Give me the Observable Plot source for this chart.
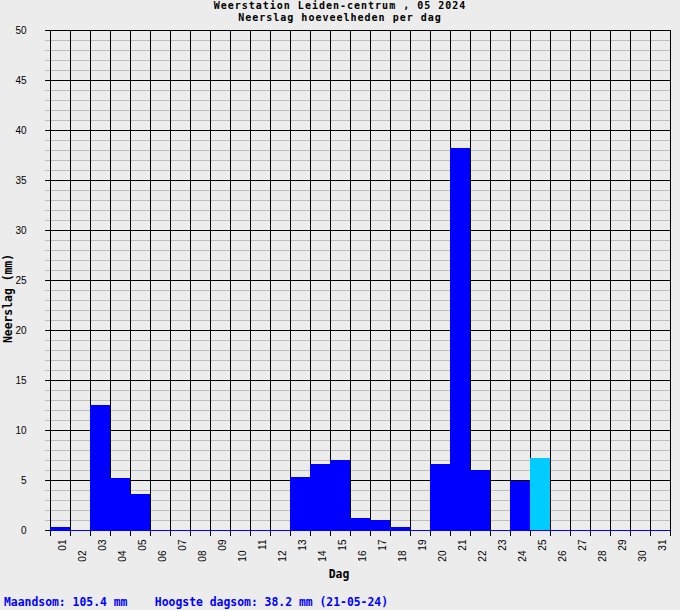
<!DOCTYPE html>
<html>
<head>
<meta charset="utf-8">
<script src="https://cdn.jsdelivr.net/npm/d3@7"></script>
<script src="https://cdn.jsdelivr.net/npm/@observablehq/plot@0.6"></script>
<style>
  html, body { margin: 0; padding: 0; background: #ececec; }
  #wrap { position: relative; width: 680px; height: 610px; background: #ececec; overflow: hidden; }
  .mono { font-family: "DejaVu Sans Mono", "Liberation Mono", monospace; font-weight: bold; white-space: pre; position: absolute; }
  .ttl { font-size: 10px; letter-spacing: 1px; line-height: 11.6px; left: 0; width: 680px; text-align: center; color: #000; }
  #t1 { top: 0.4px; }
  #t2 { top: 12px; }
  #foot { top: 597px; left: 4px; color: #0000ff; font-size: 11.4px; line-height: 10px; }
  #chart { position: absolute; top: 0; left: 0; }
</style>
</head>
<body>
<div id="wrap">
  <div id="chart"></div>
  <div id="t1" class="mono ttl">Weerstation Leiden-centrum , 05 2024</div>
  <div id="t2" class="mono ttl">Neerslag hoeveelheden per dag</div>
  <div id="foot" class="mono">Maandsom: 105.4 mm    Hoogste dagsom: 38.2 mm (21-05-24)</div>
</div>
<script>
// ---- data ----
const dayLabels = ["01","02","03","04","05","06","07","08","09","10","11","12","13","14","15","16","17","18","19","20","21","22","23","24","25","26","27","28","29","30","31"];
const rainMm = [0.3, 0, 12.5, 5.2, 3.6, 0, 0, 0, 0, 0, 0, 0, 5.3, 6.6, 7.0, 1.2, 1.0, 0.3, 0, 6.6, 38.2, 6.0, 0, 4.9, 7.2, 0, 0, 0, 0, 0, 0];
const highlightDay = "25";
const yMajorTicks = [0, 5, 10, 15, 20, 25, 30, 35, 40, 45, 50];
const yMinorTicks = d3.range(0, 51).filter(v => v % 5 !== 0);
const yLabel = "Neerslag (mm)";
const xLabel = "Dag";

const blue = "#0000ff";
const cyan = "#00ccff";

const data = dayLabels.map((d, i) => ({label: d, day: i + 1, value: rainMm[i]}));
const boundaries = d3.range(0, dayLabels.length + 1);

const chart = Plot.plot({
  width: 680,
  height: 610,
  marginTop: 30,
  marginBottom: 80,
  marginLeft: 50,
  marginRight: 10,
  style: {background: "transparent", fontFamily: "Liberation Sans, Arial, sans-serif", fontSize: "10px", color: "#000"},
  x: {domain: [0, dayLabels.length], axis: null},
  y: {domain: [0, 50], ticks: yMajorTicks, tickSize: 5, tickPadding: 19, label: null, tickFormat: d => String(d)},
  marks: [
    Plot.ruleY(yMinorTicks, {x1: -0.25, x2: dayLabels.length, stroke: "#bebebe"}),
    Plot.ruleX(boundaries, {y1: -0.6, y2: 50, stroke: "#000"}),
    Plot.ruleY(yMajorTicks, {x1: -0.25, x2: dayLabels.length, stroke: "#000"}),
    Plot.rect(data.filter(d => d.value > 0), {
      x1: d => d.day - 1, x2: d => d.day, y1: 0, y2: "value",
      fill: d => d.label === highlightDay ? cyan : blue
    }),
    Plot.ruleY([0], {x1: 0, x2: dayLabels.length, stroke: blue}),
    Plot.text(data.filter(d => d.day % 2 === 1), {
      x: d => d.day - 0.5, y: 0, text: "label", rotate: -90, textAnchor: "end",
      dx: 2, dy: 9, fontSize: 10
    }),
    Plot.text(data.filter(d => d.day % 2 === 0), {
      x: d => d.day - 0.5, y: 0, text: "label", rotate: -90, textAnchor: "end",
      dx: 2, dy: 20, fontSize: 10
    }),
    Plot.text([yLabel], {
      frameAnchor: "left", text: d => d, rotate: -90, textAnchor: "middle", dx: -42.5, dy: 18,
      fontFamily: "DejaVu Sans Mono, monospace", fontWeight: "bold", fontSize: 11.4
    }),
    Plot.text([xLabel], {
      frameAnchor: "bottom", text: d => d, textAnchor: "middle", dx: -21.5, dy: 47,
      fontFamily: "DejaVu Sans Mono, monospace", fontWeight: "bold", fontSize: 11.4
    })
  ]
});
document.getElementById("chart").appendChild(chart);
</script>
</body>
</html>
